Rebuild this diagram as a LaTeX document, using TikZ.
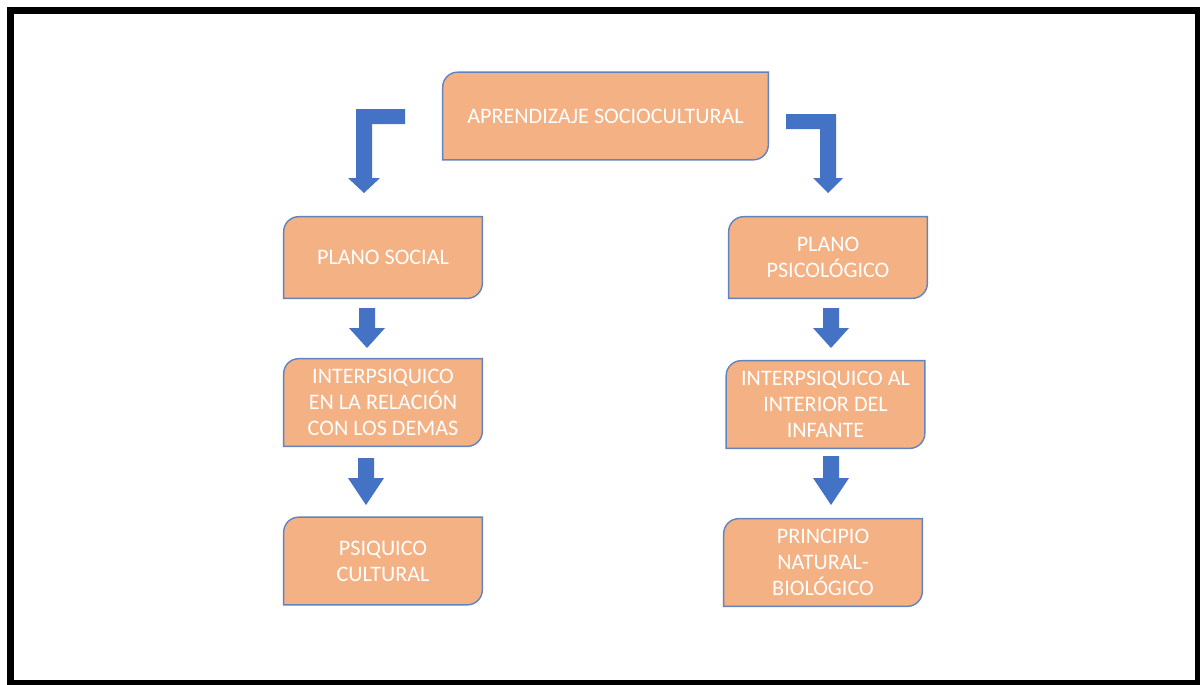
\documentclass[tikz,border=0pt]{standalone}
\usepackage{fontspec}
\setmainfont{Carlito}
\usetikzlibrary{backgrounds}
\definecolor{boxfill}{HTML}{F4B183}
\definecolor{boxline}{HTML}{6283BE}
\definecolor{arrowblue}{HTML}{4472C4}
\tikzset{stage/.style={text=white, font=\fontsize{12.6}{14.8}\selectfont, align=center,
    inner sep=0pt, minimum width=3.96cm, minimum height=1.74cm}}
\newcommand{\downblock}[4]{%
  \fill[arrowblue] (#1-8,#2) -- (#1+8,#2) -- (#1+8,#3) -- (#1+18,#3) -- (#1,#4)
    -- (#1-18,#3) -- (#1-8,#3) -- cycle;}

\begin{document}
\begin{tikzpicture}[x=0.02cm,y=-0.02cm]
					\useasboundingbox (0,0) rectangle (1200,684);
					\draw[line width=0.14cm] (10.5,10.5) rectangle (1198.5,683.5);
					\path (605.5,116) node[stage,minimum width=6.5cm] (b0) {APRENDIZAJE SOCIOCULTURAL};
					\path (383,257.5) node[stage,minimum height=1.62cm] (b1) {PLANO SOCIAL};
					\path (828,257.5) node[stage,minimum height=1.62cm] (b2) {PLANO\\PSICOLÓGICO};
					\path (383,402.5) node[stage] (b3) {INTERPSIQUICO\\EN LA RELACIÓN\\CON LOS DEMAS};
					\path (825.5,404.5) node[stage] (b4) {INTERPSIQUICO AL\\INTERIOR DEL\\INFANTE};
					\path (383,561) node[stage] (b5) {PSIQUICO\\CULTURAL};
					\path (823,562.5) node[stage] (b6) {PRINCIPIO\\NATURAL-\\BIOLÓGICO};
					\begin{scope}[on background layer]
					\foreach \b in {b0,b1,b2,b3,b4,b5,b6}
					\filldraw[fill=boxfill,draw=boxline,line width=0.8pt] (\b.south west)
					  -- ([yshift=-0.3cm]\b.north west) arc[start angle=180,end angle=90,radius=0.3cm]
					  -- (\b.north east) -- ([yshift=0.3cm]\b.south east)
					  arc[start angle=0,end angle=-90,radius=0.3cm] -- cycle;
					\end{scope}
					% bent arrows from the top box
					\fill[arrowblue] (405,109) -- (356,109) -- (356,178) -- (348,178) -- (364,193)
					  -- (380,178) -- (372,178) -- (372,124) -- (405,124) -- cycle;
					\fill[arrowblue] (786,114) -- (836,114) -- (836,178) -- (843,178) -- (828,193)
					  -- (813,178) -- (820,178) -- (820,129) -- (786,129) -- cycle;
					% straight arrows
					\downblock{367}{308}{328}{348}
					\downblock{831}{308}{328}{348}
					\downblock{366}{458}{478}{505}
					\downblock{831}{456}{478}{505}
					\end{tikzpicture}
\end{document}
